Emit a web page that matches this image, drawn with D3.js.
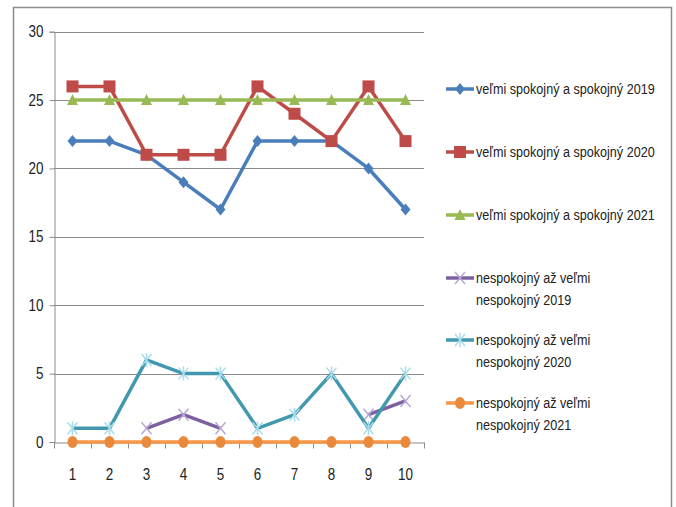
<!DOCTYPE html>
<html><head><meta charset="utf-8">
<script src="https://cdn.jsdelivr.net/npm/d3@7"></script>
<style>body{margin:0;background:#fff}svg{display:block}</style>
</head><body>
<script>
const categories = [1,2,3,4,5,6,7,8,9,10];
const yTicks = [0,5,10,15,20,25,30];
const seriesNames = ["veľmi spokojný a spokojný 2019","veľmi spokojný a spokojný 2020","veľmi spokojný a spokojný 2021","nespokojný až veľmi nespokojný 2019","nespokojný až veľmi nespokojný 2020","nespokojný až veľmi nespokojný 2021"];
const legendLines = [["veľmi spokojný a spokojný 2019"],["veľmi spokojný a spokojný 2020"],["veľmi spokojný a spokojný 2021"],["nespokojný až veľmi","nespokojný 2019"],["nespokojný až veľmi","nespokojný 2020"],["nespokojný až veľmi","nespokojný 2021"]];
const sat2019 = [22,22,21,19,17,22,22,22,20,17];
const sat2020 = [26,26,21,21,21,26,24,22,26,22];
const sat2021 = [25,25,25,25,25,25,25,25,25,25];
const dis2019 = [null,null,1,2,1,null,null,null,2,3];
const dis2020 = [1,1,6,5,5,1,2,5,1,5];
const dis2021 = [0,0,0,0,0,0,0,0,0,0];
const allSeries = [sat2019,sat2020,sat2021,dis2019,dis2020,dis2021];
const lineColors = ["#4A7EBB","#BE4B48","#98B954","#7D60A0","#4198AF","#F79646"];
const markers = ["diamond","square","triangle","x","star","circle"];
const markerColors = ["#4A7EBB","#BE4B48","#98B954","#B9A8D4","#A9DCEB","#E8893B"];

const W=676,H=507;
const svg=d3.select("body").append("svg").attr("width",W).attr("height",H);
const font="'Liberation Sans Narrow','Arial Narrow','Liberation Sans',sans-serif";
const SX=0.84;
function squeeze(sel){
  sel.each(function(){
    const t=d3.select(this);
    const ax=+t.attr("x")||0, ay=+t.attr("y")||0;
    t.attr("transform",`translate(${ax},${ay}) scale(${SX},1) translate(${-ax},${-ay})`);
  });
}
svg.append("rect").attr("x",13.5).attr("y",7.5).attr("width",658).attr("height",520).attr("fill","#fff").attr("stroke","#8c8c8c").attr("stroke-width",1.5);

const pLeft=54,pRight=424,pTop=31.7,pBottom=442;
const x=d3.scaleBand().domain(categories).range([pLeft,pRight]);
const y=d3.scaleLinear().domain([0,30]).range([pBottom,pTop]);

svg.append("g").selectAll("line").data(yTicks.filter(d=>d>0)).join("line")
 .attr("x1",pLeft).attr("x2",pRight).attr("y1",d=>Math.round(y(d))+0.5).attr("y2",d=>Math.round(y(d))+0.5)
 .attr("stroke","#8c8c8c").attr("stroke-width",1);

const yAxis=svg.append("g").attr("transform",`translate(${pLeft+0.5},0)`)
 .call(d3.axisLeft(y).tickValues(yTicks).tickSize(5).tickPadding(6));
yAxis.select(".domain").attr("stroke","#8c8c8c");
yAxis.selectAll(".tick line").attr("stroke","#8c8c8c");
yAxis.selectAll("text").attr("font-family",font).attr("font-size",16).attr("fill","#222").call(squeeze);

const xAxis=svg.append("g").attr("transform",`translate(0,${Math.round(y(0))+0.5})`)
 .call(d3.axisBottom(x).tickSize(0).tickPadding(26));
xAxis.select(".domain").attr("stroke","#8c8c8c");
xAxis.selectAll("text").attr("font-family",font).attr("font-size",16).attr("fill","#222").call(squeeze);
const bounds=categories.map(c=>x(c)).concat([pRight]);
xAxis.append("g").selectAll("line").data(bounds).join("line")
 .attr("x1",d=>Math.round(d)+0.5).attr("x2",d=>Math.round(d)+0.5).attr("y1",0).attr("y2",6).attr("stroke","#8c8c8c");

const cx=c=>x(c)+x.bandwidth()/2;

function drawMarker(g,type,color,px,py){
  if(type==="diamond"){
    g.append("path").attr("d",`M${px},${py-6}L${px+5},${py}L${px},${py+6}L${px-5},${py}Z`).attr("fill",color);
  } else if(type==="square"){
    g.append("rect").attr("x",px-6).attr("y",py-6).attr("width",12).attr("height",12).attr("fill",color);
  } else if(type==="triangle"){
    g.append("path").attr("d",`M${px},${py-6}L${px+5.5},${py+5}L${px-5.5},${py+5}Z`).attr("fill",color);
  } else if(type==="x"){
    g.append("path").attr("d",`M${px-5},${py-6}L${px+5},${py+6}M${px+5},${py-6}L${px-5},${py+6}`).attr("stroke",color).attr("stroke-width",1.5);
  } else if(type==="star"){
    g.append("path").attr("d",`M${px-5},${py-6}L${px+5},${py+6}M${px+5},${py-6}L${px-5},${py+6}M${px},${py-7}L${px},${py+7}`).attr("stroke",color).attr("stroke-width",1.5);
  } else if(type==="circle"){
    g.append("ellipse").attr("cx",px).attr("cy",py).attr("rx",5).attr("ry",6).attr("fill",color);
  }
}

const line=d3.line().defined(d=>d.v!==null).x(d=>cx(d.c)).y(d=>y(d.v));
allSeries.forEach((s,i)=>{
  const g=svg.append("g");
  const data=s.map((v,j)=>({c:categories[j],v}));
  g.append("path").datum(data).attr("d",line).attr("fill","none").attr("stroke",lineColors[i]).attr("stroke-width",3.5).attr("stroke-linejoin","round");
  data.filter(d=>d.v!==null).forEach(d=>drawMarker(g,markers[i],markerColors[i],cx(d.c),y(d.v)));
});

const legY=[89,152,215,278,340,403];
legendLines.forEach((lines,i)=>{
  const g=svg.append("g");
  g.append("line").attr("x1",446).attr("x2",474).attr("y1",legY[i]).attr("y2",legY[i]).attr("stroke",lineColors[i]).attr("stroke-width",3.5);
  drawMarker(g,markers[i],markerColors[i],460,legY[i]);
  lines.forEach((t,k)=>{
    g.append("text").attr("x",476).attr("y",legY[i]+5+k*22).text(t)
     .attr("font-family",font).attr("font-size",15).attr("fill","#222").call(squeeze);
  });
});
</script>
</body></html>
